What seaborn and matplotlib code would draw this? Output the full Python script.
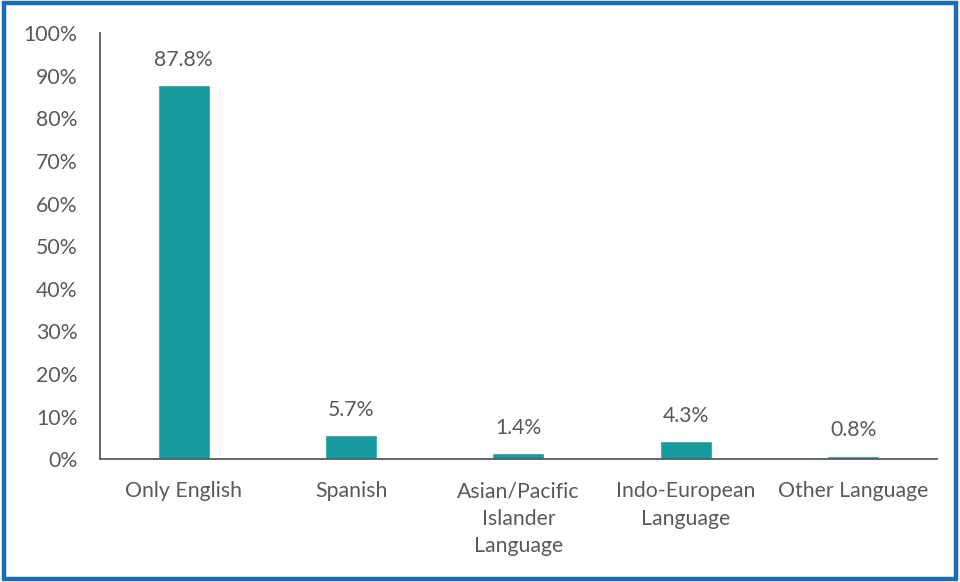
import matplotlib
matplotlib.use("Agg")
import matplotlib.pyplot as plt
from matplotlib.patches import Rectangle
from matplotlib.ticker import FuncFormatter, MultipleLocator
import seaborn as sns
import pandas as pd

# Language spoken at home, share of population
categories = ["Only English", "Spanish", "Asian/Pacific\nIslander\nLanguage",
              "Indo-European\nLanguage", "Other Language"]
shares = [87.8, 5.7, 1.4, 4.3, 0.8]

df = pd.DataFrame({"category": categories, "share": shares})

sns.set_theme(style="white")
plt.rcParams["font.family"] = ["Lato", "DejaVu Sans"]

text_color = "#595959"
bar_color = "#169A9D"
fs = 15.3

fig = plt.figure(figsize=(9.6, 5.82), dpi=100)
ax = fig.add_axes([0.104, 0.211, 0.872, 0.732])

sns.barplot(data=df, x="category", y="share", color=bar_color, width=0.31,
            saturation=1, ax=ax)

ax.set_ylim(0, 100)
ax.set_xlim(-0.5, len(categories) - 0.5)
ax.yaxis.set_major_locator(MultipleLocator(10))
ax.yaxis.set_major_formatter(FuncFormatter(lambda v, _: f"{v:.0f}%"))
ax.set_xlabel("")
ax.set_ylabel("")

for i, v in enumerate(shares):
    ax.text(i, v + 3.6, f"{v:.1f}%", ha="center", va="bottom",
            fontsize=fs, color=text_color)

ax.tick_params(axis="both", length=0, labelsize=fs, labelcolor=text_color)
ax.tick_params(axis="x", pad=16)
ax.tick_params(axis="y", pad=16)
for lbl in ax.get_xticklabels():
    lbl.set_linespacing(1.45)
    lbl.set_verticalalignment("top")

for side in ["top", "right"]:
    ax.spines[side].set_visible(False)
for side in ["left", "bottom"]:
    ax.spines[side].set_color(text_color)
    ax.spines[side].set_linewidth(1.3)

# Blue frame around the whole figure
fig.patches.append(Rectangle((0.0045, 0.006), 0.9915, 0.9885, transform=fig.transFigure,
                             fill=False, edgecolor="#1B6BB6", linewidth=3.2))

fig.savefig("out.png", dpi=100)
